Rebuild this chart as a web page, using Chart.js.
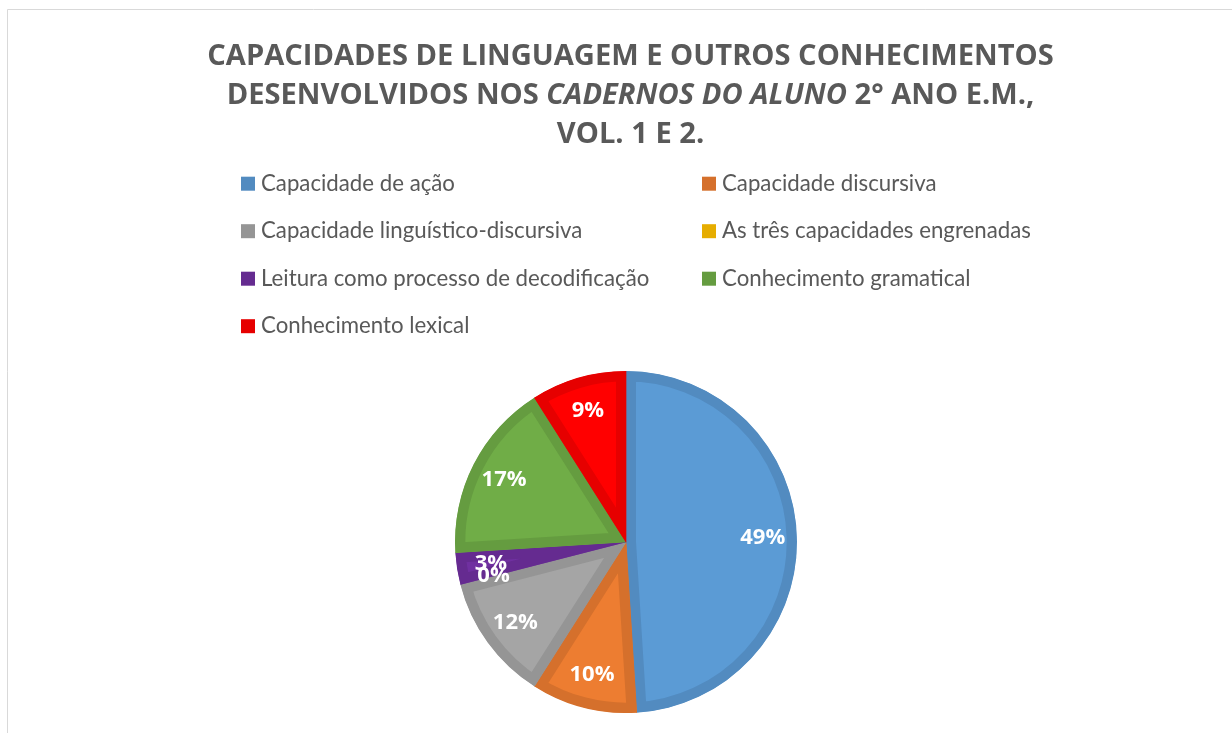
<!DOCTYPE html>
<html><head><meta charset="utf-8">
<script src="https://cdn.jsdelivr.net/npm/chart.js@4"></script>
<style>html,body{margin:0;padding:0;background:#fff;overflow:hidden}</style>
</head><body>
<canvas id="c" width="1232" height="733"></canvas>
<script>
const categories = [
  'Capacidade de ação',
  'Capacidade discursiva',
  'Capacidade linguístico-discursiva',
  'As três capacidades engrenadas',
  'Leitura como processo de decodificação',
  'Conhecimento gramatical',
  'Conhecimento lexical'
];
const values = [49, 10, 12, 0, 3, 17, 9];
const fillColors = ['#5B9BD5', '#ED7D31', '#A5A5A5', '#FFC000', '#7030A0', '#70AD47', '#FF0000'];
const borderColors = ['#528BC0', '#D5702C', '#959595', '#E6AD00', '#652B90', '#659C40', '#E60000'];
const titleLines = [
  [{t: 'CAPACIDADES DE LINGUAGEM E OUTROS CONHECIMENTOS'}],
  [{t: 'DESENVOLVIDOS NOS '}, {t: 'CADERNOS DO ALUNO', i: true}, {t: ' 2° ANO E.M.,'}],
  [{t: 'VOL. 1 E 2.'}]
];

const TEXT = '#595959';

const framePlugin = {
  id: 'frame',
  beforeDraw(chart) {
    const ctx = chart.ctx;
    ctx.save();
    ctx.fillStyle = '#fff';
    ctx.fillRect(0, 0, chart.width, chart.height);
    ctx.strokeStyle = '#D9D9D9';
    ctx.lineWidth = 1;
    ctx.beginPath();
    ctx.moveTo(7.5, chart.height);
    ctx.lineTo(7.5, 9.5);
    ctx.lineTo(chart.width, 9.5);
    ctx.stroke();
    ctx.restore();
  }
};

const titlePlugin = {
  id: 'mixedTitle',
  afterDraw(chart) {
    const ctx = chart.ctx;
    ctx.save();
    const fam = '"Open Sans", sans-serif';
    ctx.font = 'bold 26px ' + fam;
    const w0 = ctx.measureText(titleLines[0][0].t).width;
    const size = 26 * 847 / w0;
    const baselines = [65, 104, 143];
    const cx = 630.5;
    ctx.fillStyle = TEXT;
    ctx.textBaseline = 'alphabetic';
    ctx.textAlign = 'left';
    titleLines.forEach((segs, li) => {
      let total = 0;
      segs.forEach(s => {
        ctx.font = (s.i ? 'italic ' : '') + 'bold ' + size + 'px ' + fam;
        s.w = ctx.measureText(s.t).width;
        total += s.w;
      });
      let x = cx - total / 2;
      segs.forEach(s => {
        ctx.font = (s.i ? 'italic ' : '') + 'bold ' + size + 'px ' + fam;
        ctx.fillText(s.t, x, baselines[li]);
        x += s.w;
      });
    });
    ctx.restore();
  }
};

const legendPlugin = {
  id: 'gridLegend',
  afterDraw(chart) {
    const ctx = chart.ctx;
    ctx.save();
    const fam = 'Lato, sans-serif';
    ctx.font = '20px ' + fam;
    const wRef = ctx.measureText(categories[3]).width;
    const size = 20 * 309 / wRef;
    ctx.font = size + 'px ' + fam;
    ctx.textBaseline = 'middle';
    ctx.textAlign = 'left';
    const colX = [241, 702];
    const rowY = [183.7, 231.2, 278.7, 326.2];
    categories.forEach((c, i) => {
      const col = i % 2, row = Math.floor(i / 2);
      const x = colX[col], y = rowY[row];
      ctx.fillStyle = borderColors[i];
      ctx.fillRect(x, y - 7, 14, 14);
      ctx.fillStyle = TEXT;
      ctx.fillText(c, x + 20, y);
    });
    ctx.restore();
  }
};

const labelPlugin = {
  id: 'pctLabels',
  afterDatasetsDraw(chart) {
    const ctx = chart.ctx;
    const meta = chart.getDatasetMeta(0);
    const data = chart.data.datasets[0].data;
    const total = data.reduce((a, b) => a + b, 0);
    ctx.save();
    ctx.font = 'bold 22px "Open Sans", sans-serif';
    ctx.fillStyle = '#FFFFFF';
    ctx.textAlign = 'center';
    ctx.textBaseline = 'middle';
    meta.data.forEach((arc, i) => {
      const p = arc.getProps(['x', 'y', 'startAngle', 'endAngle', 'outerRadius'], true);
      const mid = (p.startAngle + p.endAngle) / 2;
      const r = p.outerRadius * 0.8;
      const tx = p.x + Math.cos(mid) * r;
      const ty = p.y + Math.sin(mid) * r;
      ctx.fillText(Math.round(data[i] / total * 100) + '%', tx, ty);
    });
    ctx.restore();
  }
};

new Chart(document.getElementById('c'), {
  type: 'pie',
  data: {
    labels: categories,
    datasets: [{
      data: values,
      backgroundColor: fillColors,
      borderColor: borderColors,
      borderWidth: 10,
      borderAlign: 'inner',
      borderJoinStyle: 'miter',
      radius: 171
    }]
  },
  options: {
    responsive: false,
    devicePixelRatio: 1,
    animation: false,
    layout: { padding: { top: 371, bottom: 20, left: 20, right: 0 } },
    plugins: {
      legend: { display: false },
      title: { display: false },
      tooltip: { enabled: false }
    }
  },
  plugins: [framePlugin, labelPlugin, legendPlugin, titlePlugin]
});
</script>
</body></html>
